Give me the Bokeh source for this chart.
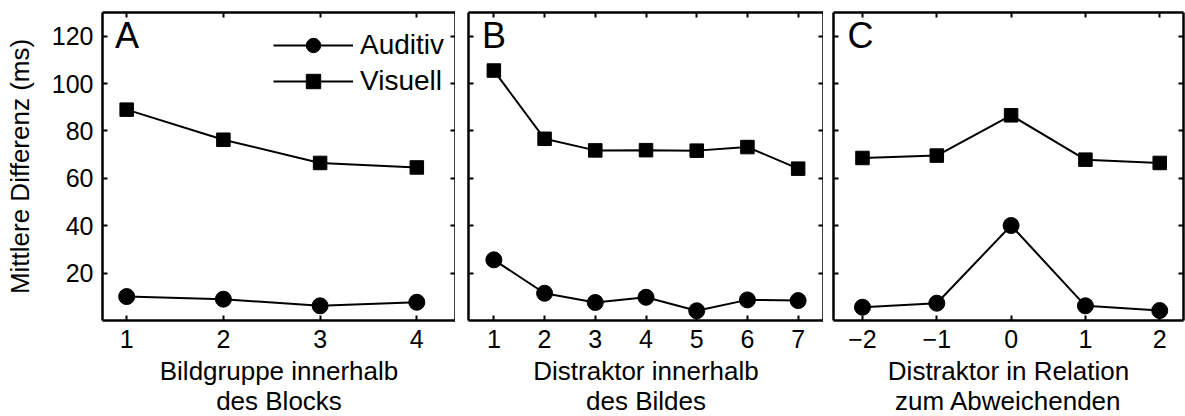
from bokeh.plotting import figure
from bokeh.layouts import row
from bokeh.models import FixedTicker, LinearAxis, Range1d, Label, Legend, LegendItem
from bokeh.embed import file_html
from bokeh.resources import INLINE

# ---- data ----
y_ticks = [20, 40, 60, 80, 100, 120]

a_x = [1, 2, 3, 4]
a_auditiv = [10.1, 9.0, 6.2, 7.7]
a_visuell = [89.0, 76.3, 66.5, 64.6]

b_x = [1, 2, 3, 4, 5, 6, 7]
b_auditiv = [25.6, 11.5, 7.6, 9.8, 4.1, 8.7, 8.4]
b_visuell = [105.5, 76.7, 71.8, 71.9, 71.7, 73.2, 64.1]

c_x = [-2, -1, 0, 1, 2]
c_auditiv = [5.6, 7.3, 40.1, 6.2, 4.2]
c_visuell = [68.6, 69.6, 86.6, 67.9, 66.5]
c_tick_labels = {-2: "\u22122", -1: "\u22121", 0: "0", 1: "1", 2: "2"}

series_names = ["Auditiv", "Visuell"]
panel_letters = ["A", "B", "C"]
x_titles = ["Bildgruppe innerhalb\ndes Blocks",
            "Distraktor innerhalb\ndes Bildes",
            "Distraktor in Relation\nzum Abweichenden"]
y_title = "Mittlere Differenz (ms)"

FONT = "Liberation Sans"
FRAME_H = 308


def style_axis(ax, ticks, show_labels, overrides=None):
    ax.ticker = FixedTicker(ticks=ticks)
    ax.axis_line_width = 2.5
    ax.axis_line_color = "black"
    ax.major_tick_in = 5
    ax.major_tick_out = 0
    ax.major_tick_line_width = 2
    ax.major_tick_line_color = "black"
    ax.minor_tick_line_color = None
    ax.major_label_text_font = FONT
    if show_labels:
        ax.major_label_text_color = "black"
        ax.major_label_text_font_size = "25px"
        ax.major_label_standoff = 9
        if overrides:
            ax.major_label_overrides = overrides
    else:
        ax.major_label_text_color = None
        ax.major_label_text_font_size = "0px"
        ax.major_label_standoff = 0


def make_panel(xs, aud, vis, xr, frame_w, bl, br, letter, letter_x, xtitle,
               show_y, legend=False, overrides=None):
    p = figure(frame_width=frame_w, frame_height=FRAME_H,
               x_range=Range1d(*xr), y_range=Range1d(0, 130),
               output_backend="svg", toolbar_location=None,
               min_border_left=bl, min_border_right=br,
               min_border_top=12, min_border_bottom=96)
    p.grid.visible = False
    p.outline_line_color = None
    p.background_fill_color = "white"
    p.border_fill_color = "white"

    style_axis(p.xaxis[0], xs, True, overrides)
    p.xaxis[0].axis_label = xtitle
    p.xaxis[0].axis_label_text_font = FONT
    p.xaxis[0].axis_label_text_font_size = "26px"
    p.xaxis[0].axis_label_text_font_style = "normal"
    p.xaxis[0].axis_label_text_color = "black"
    p.xaxis[0].axis_label_text_line_height = 1.0
    p.xaxis[0].axis_label_standoff = 5

    style_axis(p.yaxis[0], y_ticks, show_y)
    if show_y:
        p.yaxis[0].axis_label = y_title
        p.yaxis[0].axis_label_text_font = FONT
        p.yaxis[0].axis_label_text_font_size = "26px"
        p.yaxis[0].axis_label_text_font_style = "normal"
        p.yaxis[0].axis_label_text_color = "black"
        p.yaxis[0].axis_label_standoff = 14

    top = LinearAxis()
    style_axis(top, xs, False)
    p.add_layout(top, "above")
    right = LinearAxis()
    style_axis(right, y_ticks, False)
    p.add_layout(right, "right")

    la = p.line(xs, aud, line_color="black", line_width=2)
    sa = p.scatter(xs, aud, marker="circle", size=16, fill_color="black", line_color="black")
    lv = p.line(xs, vis, line_color="black", line_width=2)
    sv = p.scatter(xs, vis, marker="square", size=13.5, fill_color="black", line_color="black")

    p.add_layout(Label(x=letter_x, y=129, text=letter, text_font=FONT,
                       text_font_size="36px", text_baseline="top", text_color="black"))

    if legend:
        lg = Legend(items=[LegendItem(label=series_names[0], renderers=[la, sa]),
                           LegendItem(label=series_names[1], renderers=[lv, sv])],
                    location=(171, 221), glyph_width=80, glyph_height=36,
                    spacing=0, padding=0, margin=0, label_standoff=7,
                    border_line_color=None, background_fill_alpha=0,
                    label_text_font=FONT, label_text_font_size="28px",
                    label_text_color="black", label_height=36)
        p.add_layout(lg)
    return p


pa = make_panel(a_x, a_auditiv, a_visuell, (0.75, 4.4), 353, 102, 0,
                panel_letters[0], 0.88, x_titles[0], True, legend=True)
pb = make_panel(b_x, b_auditiv, b_visuell, (0.5, 7.5), 355, 13, 0,
                panel_letters[1], 0.765, x_titles[1], False)
pc = make_panel(c_x, c_auditiv, c_visuell, (-2.39, 2.32), 350, 10, 2,
                panel_letters[2], -2.2, x_titles[2], False, overrides=c_tick_labels)

layout = row(pa, pb, pc, spacing=0)
open("out.html", "w").write(file_html(layout, INLINE))
